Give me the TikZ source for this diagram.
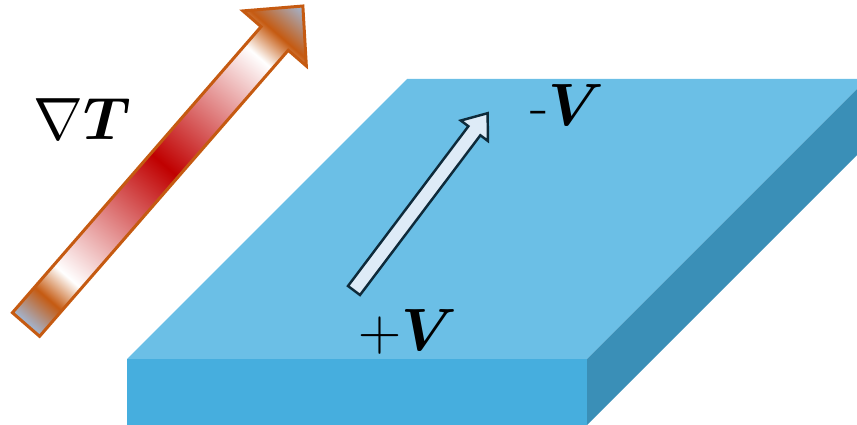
\documentclass[tikz,border=0pt]{standalone}
\usepackage{fix-cm}
\usepackage{amsmath,amssymb,bm}
\usepackage{xcolor}
\usepackage{tikz}
\definecolor{slabtop}{HTML}{6BBFE6}
\definecolor{slabfront}{HTML}{46AEDE}
\definecolor{slabside}{HTML}{3A8FB7}
\definecolor{burnt}{HTML}{C55A11}
\definecolor{hotred}{HTML}{C00000}
\definecolor{steel}{HTML}{A2B8D6}
\definecolor{inkblue}{HTML}{0E2A3A}
\definecolor{paleblue}{HTML}{DEEBF7}
\pgfdeclarehorizontalshading{heatbar}{100bp}{color(0bp)=(steel); color(25bp)=(steel); color(29bp)=(burnt); color(32.5bp)=(white); color(50bp)=(hotred); color(67bp)=(white); color(70.5bp)=(burnt); color(75bp)=(steel); color(100bp)=(steel)}

\begin{document}
\begin{tikzpicture}[x=0.02cm, y=-0.02cm,
			every node/.style={font=\fontsize{34}{40}\selectfont, text=black, inner sep=0pt, anchor=base west},
			heatarrow/.style={draw=burnt, line width=1.7pt, line join=miter, shading=heatbar},
			voltarrow/.style={draw=inkblue, line width=1.4pt, fill=paleblue, line join=miter}
		]
		\useasboundingbox (0,0) rectangle (857,425);
		\clip (0,0) rectangle (857,425);

		% slab
		\coordinate (fl) at (127,359);
		\coordinate (fr) at (587,359);
		\coordinate (br) at (867,79);
		\coordinate (bl) at (407,79);
		\fill[slabtop] (fl) -- (fr) -- (br) -- (bl) -- cycle;
		\fill[slabfront] (fl) -- (fr) -- ++(0,66) -- (127,425) -- cycle;
		\fill[slabside] (fr) -- (br) -- ++(0,66) -- (587,425) -- cycle;

		% temperature gradient arrow
		\begin{scope}[transform canvas={shift={(26,324.5)}, rotate=49}]
			\shade[heatarrow] (0,-18) -- (379,-18) -- (379,-42) -- (422,0) -- (379,42) -- (379,18) -- (0,18) -- cycle;
		\end{scope}

		% voltage arrow
		\begin{scope}[transform canvas={shift={(354,290.5)}, rotate=53}]
			\draw[voltarrow] (0,-7.5) -- (200,-7.5) -- (200,-17) -- (222,0) -- (200,17) -- (200,7.5) -- (0,7.5) -- cycle;
		\end{scope}

		\node (gradT) at (33,140) {$\nabla\bm{T}$};
		\node (minusV) at (530,126) {-$\bm{V}$};
		\node (plusV) at (358,350) {$+\bm{V}$};
	\end{tikzpicture}
\end{document}
